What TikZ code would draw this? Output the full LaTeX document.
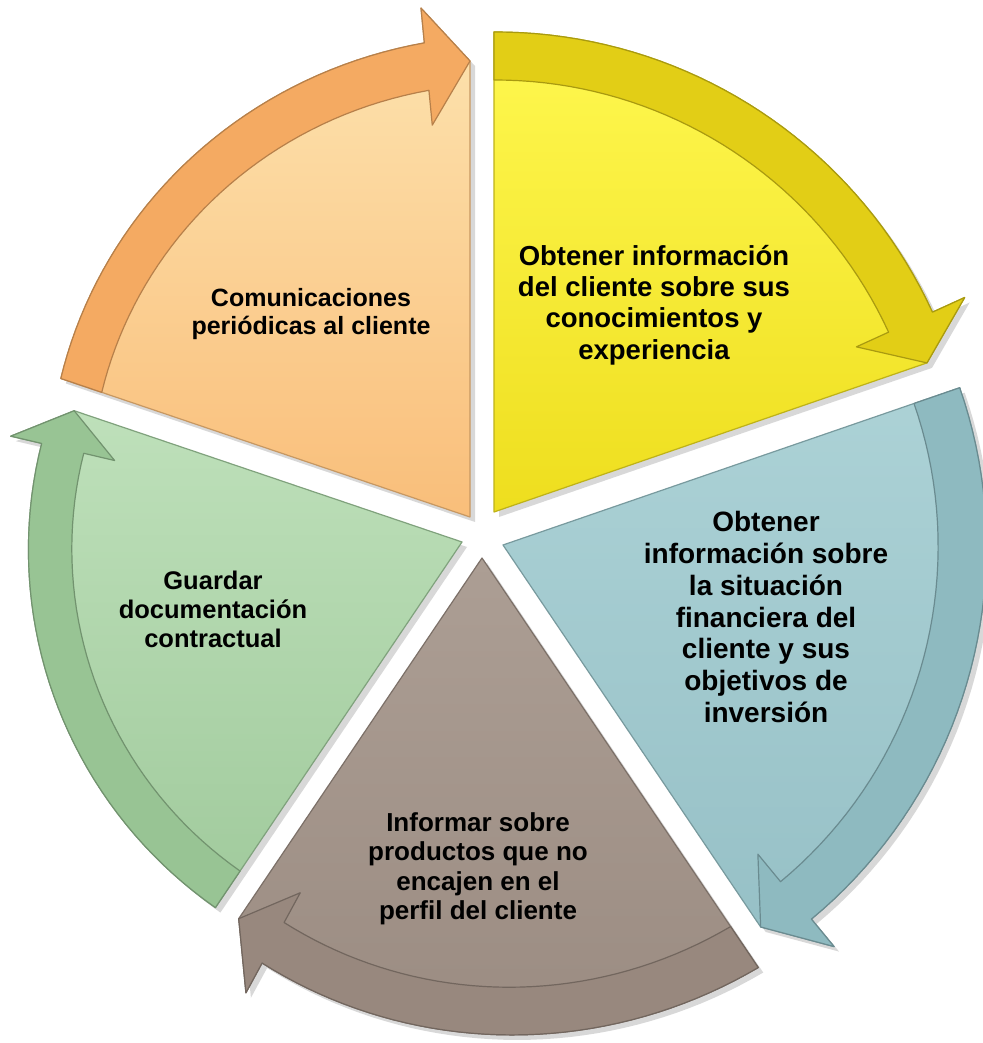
\documentclass[tikz,border=0pt]{standalone}
\usepackage{fontspec}
\setmainfont{Liberation Sans}
\usetikzlibrary{shadows}

\definecolor{orangetop}{RGB}{253,228,176}
\definecolor{orangebot}{RGB}{249,190,122}
\definecolor{orangeband}{RGB}{244,170,98}
\definecolor{yellowtop}{RGB}{255,248,80}
\definecolor{yellowbot}{RGB}{238,222,30}
\definecolor{yellowband}{RGB}{226,206,22}
\definecolor{bluetop}{RGB}{172,210,214}
\definecolor{bluebot}{RGB}{150,192,198}
\definecolor{blueband}{RGB}{142,186,192}
\definecolor{browntop}{RGB}{172,158,148}
\definecolor{brownbot}{RGB}{155,140,130}
\definecolor{brownband}{RGB}{152,136,126}
\definecolor{greentop}{RGB}{190,224,186}
\definecolor{greenbot}{RGB}{160,202,156}
\definecolor{greenband}{RGB}{152,196,148}

% one piece of the cycle: apex, start angle, end angle, outer radius at start / at end,
% light colour, deep colour, arrow colour
\newcommand{\cyclepart}[8]{%
  \begin{scope}[shift={(#1)},
      declare function={rimr(\t)=#4+(#5-(#4))*((#2)-(\t))/((#2)-(#3));}]
    \pgfmathsetmacro{\ab}{#3+5.5}
    \pgfmathsetmacro{\rmid}{0.95*rimr(\ab)}
    \pgfmathsetmacro{\hw}{0.13*\rmid}
    \pgfmathsetmacro{\rtip}{0.95*rimr(#3)}
    \pgfmathsetmacro{\rstart}{rimr(#2)}
    % wedge
    \path[wedge, top color=#6, bottom color=#7, draw=#7!80!black]
      (0,0) -- (#2:\rstart)
      -- plot[domain=#2:\ab, samples=40] (\x:{rimr(\x)})
      -- (\ab:{\rmid+\hw}) -- (#3:\rtip) -- cycle;
    % arrow on the rim
    \path[band, fill=#8, draw=#8!75!black]
      (#2:\rstart)
      -- plot[domain=#2:\ab, samples=40] (\x:{rimr(\x)})
      -- (\ab:{\rmid+\hw}) -- (#3:\rtip) -- (\ab:{\rmid-\hw})
      -- plot[domain=\ab:#2, samples=40] (\x:{0.9*rimr(\x)}) -- cycle;
  \end{scope}}

\begin{document}
\begin{tikzpicture}[x=1pt, y=1pt]
  \tikzstyle{wedge} = [drop shadow={opacity=0.3, shadow xshift=5pt, shadow yshift=-5pt}, line width=1.2pt, line join=round]
  \tikzstyle{band} = [line width=1.2pt, line join=round]
  \tikzstyle{segtext} = [align=center, inner sep=0pt, text=black]

  \fill[white] (0,0) rectangle (982,1043);
  \useasboundingbox (0,0) rectangle (982,1043);

  \coordinate (apexO) at (470,526);
  \coordinate (apexY) at (494,531);
  \coordinate (apexB) at (503,498);
  \coordinate (apexR) at (482,485);
  \coordinate (apexG) at (462,501);

  \cyclepart{apexO}{161.3}{90}{432}{480}{orangetop}{orangebot}{orangeband}
  \cyclepart{apexY}{90}{19}{480}{482}{yellowtop}{yellowbot}{yellowband}
  \cyclepart{apexB}{19}{-56}{483}{485}{bluetop}{bluebot}{blueband}
  \cyclepart{apexR}{-56}{-124}{494}{458}{browntop}{brownbot}{brownband}
  \cyclepart{apexG}{-124}{-198.7}{441}{431}{greentop}{greenbot}{greenband}

  \node[segtext, font=\fontsize{25}{28.5}\selectfont\bfseries] (comm) at (311,729)
    {Comunicaciones\\periódicas al cliente};
  \node[segtext, font=\fontsize{27.5}{31.2}\selectfont\bfseries] (know) at (654,738)
    {Obtener información\\del cliente sobre sus\\conocimientos y\\experiencia};
  \node[segtext, font=\fontsize{28}{31.8}\selectfont\bfseries] (finance) at (766,426)
    {Obtener\\información sobre\\la situación\\financiera del\\cliente y sus\\objetivos de\\inversión};
  \node[segtext, font=\fontsize{26}{29.5}\selectfont\bfseries] (products) at (478,174)
    {Informar sobre\\productos que no\\encajen en el\\perfil del cliente};
  \node[segtext, font=\fontsize{25.5}{29}\selectfont\bfseries] (docs) at (213,434)
    {Guardar\\documentación\\contractual};
\end{tikzpicture}
\end{document}
